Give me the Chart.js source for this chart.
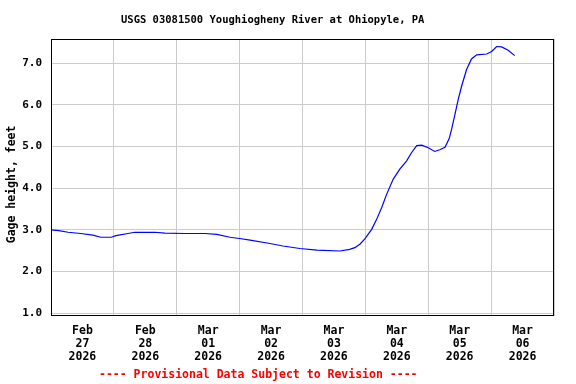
<!DOCTYPE html>
<html>
<head>
<meta charset="utf-8">
<script src="https://cdn.jsdelivr.net/npm/chart.js@4/dist/chart.umd.min.js"></script>
<style>
    body { margin: 0; background: #fff; }
</style>
</head>
<body>
<canvas id="gageChart" width="576" height="384"></canvas>
<script>
// hours since Feb 27 2026 00:00
const hours = [0, 3, 6.5, 11.4, 16, 19, 23, 24.8, 29.4, 32, 39.7, 43.5, 51, 58.8, 63.3, 68.3, 72, 76,
    83.6, 88.5, 95, 101.5, 110.3, 114, 116, 118, 119.8, 122.4, 124.3, 126.2, 128.1, 130.6, 133.2,
    135.7, 137.6, 139.6, 141.5, 144, 146.5, 148.4, 150.4, 152, 152.9, 154.2, 155.4, 156.7, 158.6,
    160.5, 162.5, 166.3, 168.2, 170.1, 172, 174.5, 177];
const gage = [3.00, 2.98, 2.94, 2.91, 2.87, 2.82, 2.82, 2.86, 2.91, 2.94, 2.94, 2.92, 2.91, 2.91, 2.89,
    2.82, 2.79, 2.75, 2.67, 2.61, 2.55, 2.51, 2.49, 2.53, 2.57, 2.66, 2.78, 3.01, 3.25, 3.53, 3.85,
    4.21, 4.46, 4.65, 4.85, 5.02, 5.03, 4.97, 4.88, 4.92, 4.98, 5.19, 5.41, 5.77, 6.12, 6.44, 6.84,
    7.10, 7.20, 7.22, 7.28, 7.40, 7.39, 7.31, 7.18];
const dayLabels = [
    ['Feb', '27', '2026'], ['Feb', '28', '2026'], ['Mar', '01', '2026'], ['Mar', '02', '2026'],
    ['Mar', '03', '2026'], ['Mar', '04', '2026'], ['Mar', '05', '2026'], ['Mar', '06', '2026']
];
const yTicks = [1, 2, 3, 4, 5, 6, 7];
const titleText = 'USGS 03081500 Youghiogheny River at Ohiopyle, PA';
const footerText = '---- Provisional Data Subject to Revision ----';

const monoFont = "'DejaVu Sans Mono', monospace";

// black box round the plot area, plus the title and the red footer line
const framePlugin = {
    id: 'frame',
    afterDatasetsDraw(chart) {
        const { ctx, chartArea } = chart;
        ctx.save();
        ctx.strokeStyle = '#000';
        ctx.lineWidth = 1;
        ctx.strokeRect(Math.round(chartArea.left) + 0.5, Math.round(chartArea.top) + 0.5,
            Math.round(chartArea.right - chartArea.left) - 1, Math.round(chartArea.bottom - chartArea.top) - 1);
        ctx.textBaseline = 'middle';
        ctx.textAlign = 'left';
        ctx.fillStyle = '#000';
        ctx.font = "bold 10.5px " + monoFont;
        ctx.fillText(titleText, 121, 20);
        ctx.fillStyle = '#ff0000';
        ctx.font = "bold 11.5px " + monoFont;
        ctx.fillText(footerText, 99, 375);
        ctx.restore();
    }
};

new Chart(document.getElementById('gageChart'), {
    type: 'line',
    data: {
        datasets: [{
            data: hours.map((h, i) => ({ x: h, y: gage[i] })),
            borderColor: '#0000ff',
            borderWidth: 1.2,
            pointRadius: 0,
            tension: 0
        }]
    },
    options: {
        responsive: false,
        animation: false,
        layout: { padding: { left: 0, right: 22, top: 39, bottom: 20 } },
        plugins: {
            legend: { display: false },
            tooltip: { enabled: false }
        },
        scales: {
            x: {
                type: 'linear',
                min: 0,
                max: 192,
                afterBuildTicks: (scale) => {
                    const t = [];
                    for (let h = 0; h <= 192; h += 12) t.push({ value: h });
                    scale.ticks = t;
                },
                afterFit: (scale) => { scale.height = 48; },
                border: { display: false },
                grid: {
                    drawTicks: false,
                    color: (ctx) => (ctx.tick && ctx.tick.value % 24 === 0) ? '#cccccc' : 'rgba(0,0,0,0)'
                },
                ticks: {
                    autoSkip: false,
                    maxRotation: 0,
                    padding: 9,
                    color: '#000',
                    font: { family: monoFont, size: 11.5, weight: 'bold', lineHeight: 1.13 },
                    callback: (value) => value % 24 === 12 ? dayLabels[(value - 12) / 24] : ''
                }
            },
            y: {
                min: 0.93,
                max: 7.58,
                afterBuildTicks: (scale) => { scale.ticks = yTicks.map(v => ({ value: v })); },
                afterFit: (scale) => { scale.width = 51; },
                border: { display: false },
                grid: { drawTicks: false, color: '#cccccc' },
                ticks: {
                    padding: 9,
                    color: '#000',
                    font: { family: monoFont, size: 11, weight: 'bold' },
                    callback: (value) => value.toFixed(1)
                },
                title: {
                    display: true,
                    text: 'Gage height, feet  ',
                    color: '#000',
                    font: { family: monoFont, size: 11.5, weight: 'bold', lineHeight: 1.2 },
                    padding: { top: 5, bottom: 0 }
                }
            }
        }
    },
    plugins: [framePlugin]
});
</script>
</body>
</html>
